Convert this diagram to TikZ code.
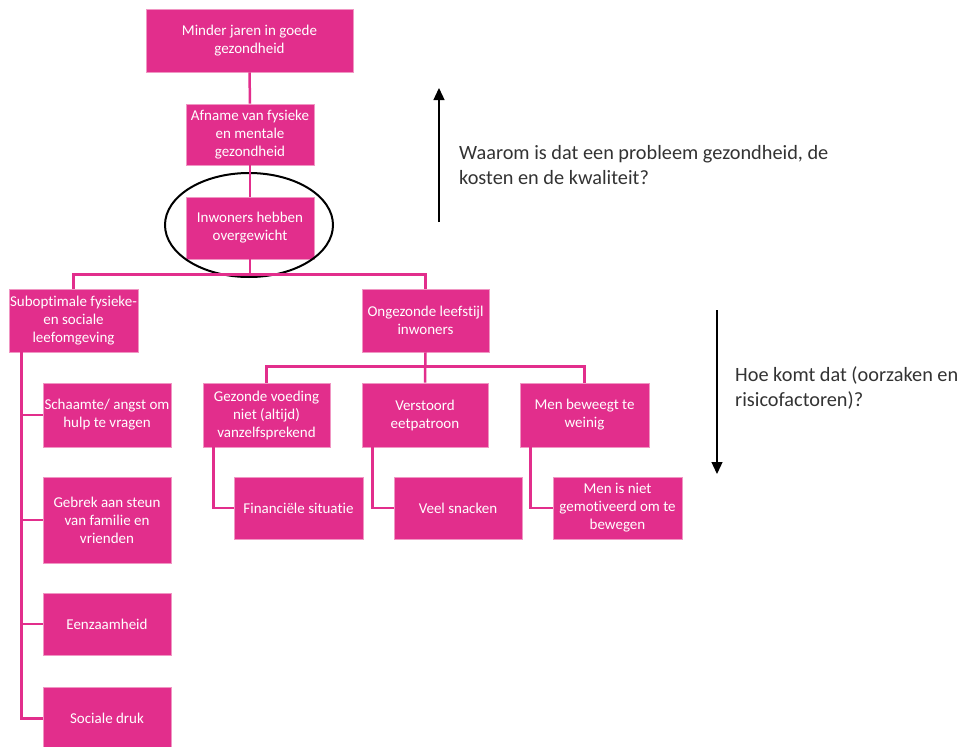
\documentclass[tikz,border=0pt]{standalone}
\usepackage{fontspec}
\setmainfont{Carlito}[Ligatures=NoCommon]
\usetikzlibrary{arrows.meta}
\definecolor{pinkc}{RGB}{226,46,140}
\definecolor{pinkedge}{RGB}{240,150,195}
\begin{document}
\begin{tikzpicture}[x=1pt,y=-1pt,
  box/.style={rectangle, fill=pinkc, draw=pinkedge, line width=0.6pt, text=white,
    inner sep=0pt, align=center, minimum width=128pt, minimum height=63pt,
    font=\fontsize{15}{18}\selectfont},
  conn/.style={draw=pinkc, line width=2.5pt},
  note/.style={align=left, anchor=west, inner sep=0pt, text=black!80,
    font=\fontsize{20.3}{25}\selectfont},
  axis/.style={draw=black, line width=1.3pt, -{Triangle[length=12pt,width=11pt]}}]
\useasboundingbox (0,0) rectangle (962,747);
\fill[white] (0,0) rectangle (962,747);

% boxes
\node[box, minimum width=207pt] (b1) at (249.5,40.5) {Minder jaren in goede\\gezondheid};
\node[box, minimum height=61pt] (b2) at (250,134.5) {Afname van fysieke\\en mentale\\gezondheid};
\node[box, minimum height=62pt] (b3) at (250,228) {Inwoners hebben\\overgewicht};
\node[box, minimum width=129pt] (sub) at (73.5,320.5) {Suboptimale fysieke-\\en sociale\\leefomgeving};
\node[box, minimum width=127pt] (ong) at (425.5,320.5) {Ongezonde leefstijl\\inwoners};
\node[box, minimum width=127pt, minimum height=64pt] (gez) at (266.5,415) {Gezonde voeding\\niet (altijd)\\vanzelfsprekend};
\node[box, minimum width=126pt, minimum height=64pt] (ver) at (425,415) {Verstoord\\eetpatroon};
\node[box, minimum width=129pt, minimum height=64pt] (men) at (584.5,415) {Men beweegt te\\weinig};
\node[box, minimum width=129pt, minimum height=62pt] (fin) at (298.5,508) {Financiële situatie};
\node[box, minimum height=62pt] (sna) at (458,508) {Veel snacken};
\node[box, minimum width=129pt, minimum height=62pt] (mot) at (617.5,508) {Men is niet\\gemotiveerd om te\\bewegen};
\node[box, minimum height=64pt] (sch) at (107,415) {Schaamte/ angst om\\hulp te vragen};
\node[box, minimum height=86pt] (geb) at (107,520) {Gebrek aan steun\\van familie en\\vrienden};
\node[box, minimum height=62pt] (een) at (107,624) {Eenzaamheid};
\node[box, minimum height=63pt] (soc) at (107,718.5) {Sociale druk};

% ellipse around b3
\draw[black, line width=2pt] (249,225) ellipse [x radius=84pt, y radius=52pt];

% connectors
\draw[conn] (b1.south) -- (b2.north);
\draw[conn] (b2.south) -- (b3.north);
\coordinate (bus1) at (b3.south |- 0,275);
\draw[conn] (b3.south) -- (bus1);
\draw[conn] (sub.north) -- ++(0,-14) -| (ong.north);
\draw[conn] (ong.south) -- (ver.north);
\draw[conn] (gez.north) -- ++(0,-16) -| (men.north);
\draw[conn] ([xshift=11pt]gez.south west) |- (fin.west);
\draw[conn] ([xshift=11pt]ver.south west) |- (sna.west);
\draw[conn] ([xshift=11pt]men.south west) |- (mot.west);
\coordinate (spine) at ([xshift=13pt]sub.south west);
\draw[conn] (spine) |- (soc.west);
\draw[conn] (sch.west -| spine) -- (sch.west);
\draw[conn] (geb.west -| spine) -- (geb.west);
\draw[conn] (een.west -| spine) -- (een.west);

% side arrows and notes
\coordinate (up0) at (439,222);
\coordinate (up1) at (439,88);
\draw[axis] (up0) -- (up1);
\node[note] (q1) at (459,165) {Waarom is dat een probleem gezondheid, de\\kosten en de kwaliteit?};
\coordinate (dn0) at (717,310);
\coordinate (dn1) at (717,474);
\draw[axis] (dn0) -- (dn1);
\node[note] (q2) at (735,387.5) {Hoe komt dat (oorzaken en\\risicofactoren)?};
\end{tikzpicture}
\end{document}
